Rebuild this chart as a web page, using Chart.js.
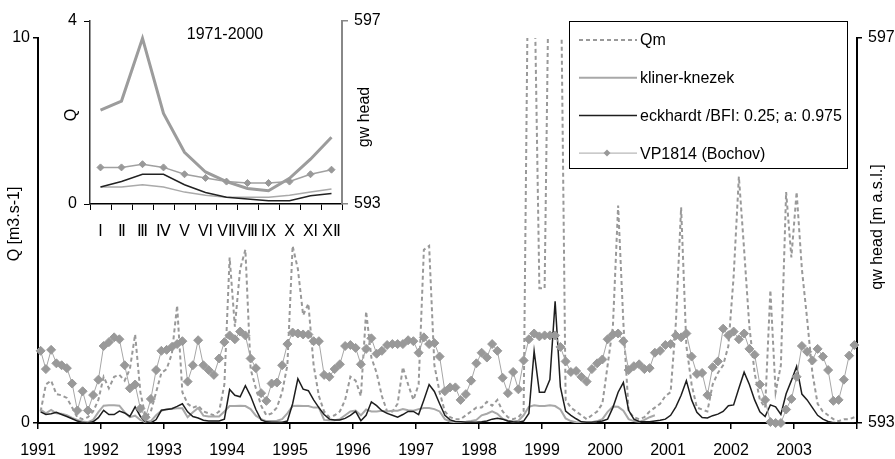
<!DOCTYPE html>
<html>
<head>
<meta charset="utf-8">
<script src="https://cdn.jsdelivr.net/npm/chart.js@4/dist/chart.umd.min.js"></script>
<style>
  body { margin: 0; background: #fff; }
  #wrap { position: relative; width: 895px; height: 459px; }
  canvas { position: absolute; left: 0; top: 0; }
</style>
</head>
<body>
<div id="wrap">
  <canvas id="mainChart" width="895" height="459"></canvas>
  <canvas id="insetChart" width="400" height="250"></canvas>
</div>
<script>
// Monthly series 1991-2003 (one value per month, Jan 1991 first)
const firstYear = 1991;
const yearCount = 13;

// Qm - monthly discharge [m3.s-1]
const qm = [
  0.3, 1.0, 1.1, 0.75, 0.72, 0.65, 0.4, 0.15, 0.1, 0.15, 0.3, 0.6,
  1.2, 0.9, 1.2, 1.25, 1.1, 1.4, 2.3, 0.8, 0.15, 0.3, 0.8, 1.3,
  1.4, 1.8, 3.05, 0.8, 0.5, 0.4, 0.45, 0.3, 0.25, 0.2, 0.3, 1.0,
  4.3, 2.5, 4.0, 4.5, 1.4, 0.9, 0.45, 0.2, 0.25, 0.4, 0.8, 1.5,
  4.6, 4.0, 2.8, 3.1, 1.5, 0.7, 0.3, 0.15, 0.2, 0.3, 0.6, 1.2,
  1.1, 0.7, 2.9, 1.7, 1.3, 0.7, 0.3, 0.3, 0.5, 1.45, 1.0, 0.6,
  1.0, 4.5, 4.6, 1.5, 0.8, 0.3, 0.15, 0.1, 0.1, 0.2, 0.3, 0.4,
  0.4, 0.55, 0.45, 0.6, 0.3, 0.15, 0.1, 0.15, 0.3, 14, 12, 3.5,
  3.5, 14, 16, 13, 0.6, 0.4, 0.3, 0.2, 0.1, 0.2, 0.3, 0.5,
  1.5, 2.5, 5.65, 2.6, 0.3, 0.15, 0.1, 0.15, 0.3, 0.4, 0.5, 0.7,
  0.8, 2.6, 5.6, 2.0, 1.0, 0.4, 0.35, 0.3, 1.0, 1.3, 1.5, 2.0,
  3.8, 6.4, 4.5, 2.5, 1.3, 0.6, 0.4, 3.45, 0.8, 1.5, 6.0, 4.3,
  6.0, 4.0, 2.7, 1.3, 0.5, 0.3, 0.2, 0.1, 0.05, 0.1, 0.1, 0.15
];

// kliner-knezek baseflow (series ends in Oct 2000)
const klinerKnezek = [
  0.35, 0.25, 0.34, 0.25, 0.24, 0.2, 0.13, 0.08, 0.04, 0.02, 0.08, 0.28,
  0.45, 0.46, 0.46, 0.45, 0.28, 0.15, 0.19, 0.08, 0.02, 0.05, 0.2, 0.32,
  0.36, 0.37, 0.38, 0.38, 0.15, 0.28, 0.39, 0.19, 0.17, 0.17, 0.17, 0.3,
  0.44, 0.44, 0.45, 0.44, 0.36, 0.19, 0.1, 0.05, 0.05, 0.06, 0.1, 0.25,
  0.44, 0.45, 0.44, 0.44, 0.4, 0.4, 0.08, 0.07, 0.07, 0.1, 0.2, 0.3,
  0.32, 0.2, 0.35, 0.3, 0.3, 0.32, 0.3, 0.32, 0.32, 0.36, 0.33, 0.32,
  0.36, 0.39, 0.39, 0.36, 0.3, 0.1, 0.04, 0.02, 0.02, 0.03, 0.05, 0.08,
  0.2, 0.24, 0.3, 0.24, 0.11, 0.06, 0.04, 0.06, 0.2, 0.42, 0.46, 0.44,
  0.44, 0.46, 0.44, 0.35, 0.12, 0.05, 0.02, 0.01, 0.01, 0.02, 0.05, 0.1,
  0.29, 0.43, 0.42, 0.32, 0.1, 0.05, 0.03, 0.08, 0.15, 0.2
];

// eckhardt baseflow /BFI: 0.25; a: 0.975
const eckhardt = [
  0.29, 0.22, 0.24, 0.28, 0.22, 0.17, 0.11, 0.05, 0.01, 0.0, 0.03, 0.14,
  0.33, 0.22, 0.22, 0.31, 0.26, 0.17, 0.42, 0.17, 0.03, 0.0, 0.09, 0.33,
  0.35, 0.37, 0.43, 0.5, 0.29, 0.17, 0.13, 0.07, 0.05, 0.05, 0.05, 0.1,
  0.87, 0.72, 0.68, 0.97, 0.7, 0.35, 0.08, 0.03, 0.02, 0.02, 0.02, 0.05,
  0.5, 1.15, 0.88, 0.84, 0.6, 0.4, 0.22, 0.1, 0.08, 0.08, 0.12, 0.2,
  0.3, 0.06, 0.2, 0.55, 0.45, 0.32, 0.25, 0.2, 0.15, 0.22, 0.3, 0.3,
  0.22, 0.6, 1.0, 0.82, 0.5, 0.2, 0.08, 0.04, 0.03, 0.02, 0.02, 0.02,
  0.03, 0.05, 0.1, 0.12, 0.1, 0.05, 0.03, 0.02, 0.05, 0.25, 1.87, 0.8,
  0.8, 1.13, 3.16, 0.94, 0.31, 0.2, 0.11, 0.03, 0.02, 0.02, 0.03, 0.05,
  0.1, 0.4, 0.8, 1.05, 0.33, 0.1, 0.04, 0.03, 0.03, 0.05, 0.07, 0.1,
  0.2, 0.42, 0.72, 1.1, 0.6, 0.28, 0.14, 0.13, 0.19, 0.23, 0.3, 0.45,
  0.47, 0.9, 1.32, 1.0, 0.6, 0.29, 0.17, 0.47, 0.42, 0.22, 0.76, 1.1,
  1.47, 0.75, 0.6, 0.4, 0.2, 0.1, 0.04, 0.01, 0.0, 0.0, 0.0, 0.0
];

// VP1814 (Bochov) groundwater head [m a.s.l.]
const vp1814 = [
  593.75, 593.56, 593.76, 593.62, 593.60, 593.57, 593.41, 593.13, 593.33, 593.13, 593.29, 593.45,
  593.80, 593.84, 593.89, 593.87, 593.60, 593.36, 593.40, 593.15, 593.06, 593.25, 593.55, 593.75,
  593.76, 593.79, 593.82, 593.85, 593.43, 593.60, 593.86, 593.60, 593.55, 593.50, 593.67, 593.84,
  593.91, 593.87, 593.95, 593.91, 593.67, 593.57, 593.31, 593.23, 593.41, 593.42, 593.60, 593.82,
  593.94, 593.93, 593.92, 593.92, 593.85, 593.85, 593.50, 593.48, 593.56, 593.61, 593.80, 593.81,
  593.78, 593.61, 593.77, 593.88, 593.72, 593.75, 593.81, 593.82, 593.82, 593.82, 593.86, 593.85,
  593.73, 593.89, 593.82, 593.83, 593.69, 593.33, 593.37, 593.37, 593.24, 593.30, 593.44, 593.62,
  593.73, 593.68, 593.82, 593.75, 593.47, 593.31, 593.53, 593.35, 593.65, 593.87, 593.93, 593.90,
  593.91, 593.91, 593.91, 593.79, 593.64, 593.53, 593.54, 593.48, 593.43, 593.56, 593.62, 593.66,
  593.87, 593.92, 593.93, 593.85, 593.55, 593.59, 593.61, 593.56, 593.57, 593.73, 593.75, 593.81,
  593.82, 593.91, 593.89, 593.93, 593.69, 593.51, 593.52, 593.29, 593.58, 593.64, 593.98, 593.91,
  593.95, 593.87, 593.93, 593.77, 593.71, 593.40, 593.24, 593.01, 593.00, 593.00, 593.14, 593.25,
  593.48, 593.80, 593.74, 593.65, 593.77, 593.69, 593.55, 593.23, 593.24, 593.45, 593.70, 593.81
];

// Inset: long-term monthly means 1971-2000
const months = ['I', 'Ⅱ', 'Ⅲ', 'Ⅳ', 'V', 'VI', 'VⅡ', 'VⅢ', 'IX', 'X', 'XI', 'XⅡ'];
const qmMean = [2.05, 2.25, 3.62, 1.98, 1.13, 0.70, 0.49, 0.34, 0.29, 0.56, 0.98, 1.46];
const klinerMean = [0.37, 0.37, 0.42, 0.37, 0.26, 0.19, 0.15, 0.15, 0.15, 0.19, 0.26, 0.33];
const eckhardtMean = [0.37, 0.49, 0.65, 0.65, 0.42, 0.25, 0.15, 0.11, 0.07, 0.07, 0.18, 0.23];
const vp1814Mean = [593.80, 593.80, 593.87, 593.80, 593.65, 593.57, 593.49, 593.46, 593.46, 593.49, 593.65, 593.75];

const FONT = "'Liberation Sans', Arial, sans-serif";
Chart.defaults.font.family = FONT;
Chart.defaults.font.size = 16;
Chart.defaults.color = '#000';

// month i sits in the middle of its slot on the time axis
const toPoints = vals => vals.map((v, i) => ({ x: i + 0.5, y: v }));

function verticalText(ctx, text, x, y) {
    ctx.save();
    ctx.translate(x, y);
    ctx.rotate(-Math.PI / 2);
    ctx.textAlign = 'center';
    ctx.textBaseline = 'middle';
    ctx.fillText(text, 0, 0);
    ctx.restore();
}

function diamond(ctx, x, y, r) {
    ctx.beginPath();
    ctx.moveTo(x - r, y);
    ctx.lineTo(x, y - r);
    ctx.lineTo(x + r, y);
    ctx.lineTo(x, y + r);
    ctx.closePath();
    ctx.fill();
}

// Legend box and axis titles of the main chart
const mainDecor = {
    id: 'mainDecor',
    afterDraw(chart) {
        const ctx = chart.ctx;
        ctx.save();
        ctx.font = '16px ' + FONT;
        ctx.fillStyle = '#000';
        verticalText(ctx, 'Q [m3.s-1]', 15, 224);
        verticalText(ctx, 'qw head [m a.s.l.]', 878, 227);

        ctx.fillStyle = '#fff';
        ctx.fillRect(569.5, 21.5, 278, 147);
        ctx.strokeStyle = '#000';
        ctx.lineWidth = 1;
        ctx.strokeRect(569.5, 21.5, 278, 147);

        chart.data.datasets.forEach((ds, i) => {
            const y = 40 + i * 37.7;
            ctx.strokeStyle = ds.borderColor;
            ctx.lineWidth = ds.borderWidth;
            ctx.setLineDash(ds.borderDash || []);
            ctx.beginPath();
            ctx.moveTo(579, y);
            ctx.lineTo(637, y);
            ctx.stroke();
            ctx.setLineDash([]);
            if (ds.pointRadius) {
                ctx.fillStyle = ds.pointBackgroundColor;
                diamond(ctx, 607, y, 3.5);
            }
            ctx.fillStyle = '#000';
            ctx.textBaseline = 'middle';
            ctx.textAlign = 'left';
            ctx.fillText(ds.label, 640, y + 1);
        });
        ctx.restore();
    }
};

const axisStyle = (color, width) => ({
    grid: { drawOnChartArea: false, color: color, lineWidth: 1.5, tickLength: 5 },
    border: { color: color, width: width }
});

new Chart(document.getElementById('mainChart'), {
    type: 'line',
    data: {
        datasets: [
            {
                label: 'Qm',
                data: toPoints(qm),
                borderColor: '#999999',
                borderWidth: 2,
                borderDash: [4, 3],
                pointRadius: 0,
                yAxisID: 'y',
                order: 3,
            },
            {
                label: 'kliner-knezek',
                data: toPoints(klinerKnezek),
                borderColor: '#a8a8a8',
                borderWidth: 2,
                pointRadius: 0,
                yAxisID: 'y',
                order: 2,
            },
            {
                label: 'eckhardt /BFI: 0.25; a: 0.975',
                data: toPoints(eckhardt),
                borderColor: '#1e1e1e',
                borderWidth: 1.5,
                pointRadius: 0,
                yAxisID: 'y',
                order: 1,
            },
            {
                label: 'VP1814 (Bochov)',
                data: toPoints(vp1814),
                borderColor: '#a6a6a6',
                borderWidth: 1,
                pointStyle: 'rectRot',
                pointRadius: 4.5,
                pointBorderWidth: 1,
                pointBackgroundColor: '#999999',
                pointBorderColor: '#999999',
                yAxisID: 'y2',
                order: 0,
                clip: false,
            },
        ],
    },
    options: {
        responsive: false,
        animation: false,
        devicePixelRatio: 1,
        layout: { padding: { top: 38 } },
        plugins: { legend: { display: false }, tooltip: { enabled: false } },
        scales: {
            x: {
                type: 'linear',
                min: 0,
                max: yearCount * 12,
                afterFit: s => { s.height = 36; },
                ...axisStyle('#000', 2),
                grid: { drawOnChartArea: false, color: '#000', lineWidth: 1.5, tickLength: 6 },
                ticks: {
                    stepSize: 12,
                    autoSkip: false,
                    maxRotation: 0,
                    padding: 12,
                    callback: v => {
                        const m = Math.round(v);
                        return m < yearCount * 12 ? String(firstYear + m / 12) : '';
                    },
                },
            },
            y: {
                position: 'left',
                min: 0,
                max: 10,
                afterFit: s => { s.width = 38; },
                ...axisStyle('#000', 2),
                ticks: { stepSize: 10, padding: 3 },
            },
            y2: {
                position: 'right',
                min: 593,
                max: 597,
                afterFit: s => { s.width = 38; },
                ...axisStyle('#000', 2),
                ticks: { stepSize: 4, padding: 6 },
            },
        },
    },
    plugins: [mainDecor],
});

// Inset titles
const insetDecor = {
    id: 'insetDecor',
    afterDraw(chart) {
        const ctx = chart.ctx;
        ctx.save();
        ctx.font = '16px ' + FONT;
        ctx.fillStyle = '#000';
        ctx.textAlign = 'center';
        ctx.textBaseline = 'middle';
        ctx.fillText('1971-2000', 225, 35);
        verticalText(ctx, 'Q', 72, 115);
        verticalText(ctx, 'gw head', 365, 117);
        ctx.restore();
    }
};

new Chart(document.getElementById('insetChart'), {
    type: 'line',
    data: {
        labels: months,
        datasets: [
            {
                data: vp1814Mean,
                yAxisID: 'y2',
                borderColor: '#a0a0a0',
                borderWidth: 1.5,
                pointStyle: 'rectRot',
                pointRadius: 3.5,
                pointBorderWidth: 1,
                pointBackgroundColor: '#999999',
                pointBorderColor: '#999999',
                order: 0,
                clip: false,
            },
            { data: eckhardtMean, yAxisID: 'y', borderColor: '#222222', borderWidth: 1.5, pointRadius: 0, order: 1 },
            { data: klinerMean, yAxisID: 'y', borderColor: '#aaaaaa', borderWidth: 1.5, pointRadius: 0, order: 2 },
            { data: qmMean, yAxisID: 'y', borderColor: '#9c9c9c', borderWidth: 3, pointRadius: 0, order: 3 },
        ],
    },
    options: {
        responsive: false,
        animation: false,
        devicePixelRatio: 1,
        layout: { padding: { top: 21 } },
        plugins: { legend: { display: false }, tooltip: { enabled: false } },
        scales: {
            x: {
                type: 'category',
                offset: true,
                afterFit: s => { s.height = 46; },
                grid: { offset: true, drawOnChartArea: false, color: '#000', lineWidth: 1, tickLength: 6 },
                border: { color: '#000', width: 1.5 },
                ticks: { autoSkip: false, maxRotation: 0, minRotation: 0, padding: 12 },
            },
            y: {
                position: 'left',
                min: 0,
                max: 4,
                afterFit: s => { s.width = 90; },
                grid: { drawOnChartArea: false, color: '#000', lineWidth: 1, tickLength: 6 },
                border: { color: '#333', width: 1.5 },
                ticks: { stepSize: 4, padding: 7 },
            },
            y2: {
                position: 'right',
                min: 593,
                max: 597,
                afterFit: s => { s.width = 58; },
                grid: { drawOnChartArea: false, color: '#888', lineWidth: 1.5, tickLength: 6 },
                border: { color: '#888', width: 2 },
                ticks: { stepSize: 4, padding: 6 },
            },
        },
    },
    plugins: [insetDecor],
});
</script>
</body>
</html>
